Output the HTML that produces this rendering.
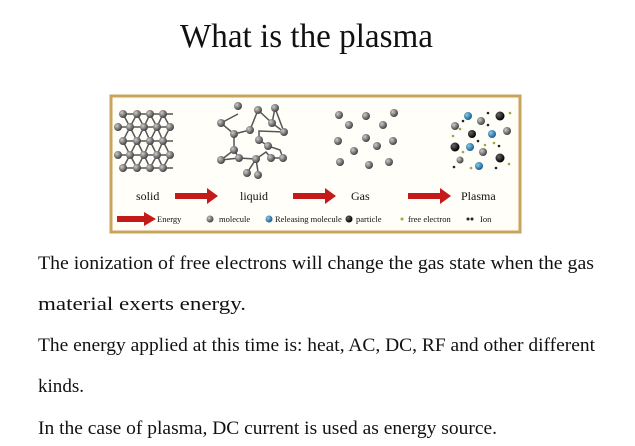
<!DOCTYPE html>
<html><head><meta charset="utf-8"><style>
body{margin:0;background:#fff}
svg{display:block}
text{font-family:"Liberation Serif",serif;fill:#111}
</style></head><body>
<svg width="635" height="446" viewBox="0 0 635 446" xmlns="http://www.w3.org/2000/svg">
<defs>
<radialGradient id="g" cx="35%" cy="35%" r="65%"><stop offset="0" stop-color="#ccc"/><stop offset="1" stop-color="#444"/></radialGradient>
<radialGradient id="b" cx="35%" cy="35%" r="65%"><stop offset="0" stop-color="#8cd"/><stop offset="1" stop-color="#1a5f9a"/></radialGradient>
<radialGradient id="k" cx="35%" cy="35%" r="65%"><stop offset="0" stop-color="#666"/><stop offset="1" stop-color="#000"/></radialGradient>
</defs>
<text x="180" y="47" font-size="34" textLength="253" lengthAdjust="spacingAndGlyphs">What is the plasma</text>
<rect x="111" y="96" width="409" height="136" fill="#fffef8" stroke="#c9a45a" stroke-width="3"/>
<!-- solid lattice -->
<g stroke="#555" stroke-width="1.5" fill="none">
<path d="M119 114H173M119 127H173M119 141H173M119 155H173M119 168H173"/>
<path d="M123 114L130 127L137 114L144 127L150 114L157 127L163 114L170 127M123 141L130 127L137 141L144 127L150 141L157 127L163 141L170 127M123 141L130 155L137 141L144 155L150 141L157 155L163 141L170 155M123 168L130 155L137 168L144 155L150 168L157 155L163 168L170 155"/>
</g>
<g fill="url(#g)">
<circle cx="123" cy="114" r="4"/><circle cx="137" cy="114" r="4"/><circle cx="150" cy="114" r="4"/><circle cx="163" cy="114" r="4"/>
<circle cx="118" cy="127" r="4"/><circle cx="130" cy="127" r="4"/><circle cx="144" cy="127" r="4"/><circle cx="157" cy="127" r="4"/><circle cx="170" cy="127" r="4"/>
<circle cx="123" cy="141" r="4"/><circle cx="137" cy="141" r="4"/><circle cx="150" cy="141" r="4"/><circle cx="163" cy="141" r="4"/>
<circle cx="118" cy="155" r="4"/><circle cx="130" cy="155" r="4"/><circle cx="144" cy="155" r="4"/><circle cx="157" cy="155" r="4"/><circle cx="170" cy="155" r="4"/>
<circle cx="123" cy="168" r="4"/><circle cx="137" cy="168" r="4"/><circle cx="150" cy="168" r="4"/><circle cx="163" cy="168" r="4"/>
</g>
<!-- liquid -->
<g stroke="#555" stroke-width="1.5" fill="none">
<path d="M238 114L221 123L234 134L250 130L258 110L272 123L275 108L284 132L259 131L259 140L268 146L280 150L283 158L271 158L266 152L256 159L239 158L221 160M234 134L234 150L239 158L256 159L247 173M256 159L258 172M234 150L221 160M284 132L272 123"/>
</g>
<g fill="url(#g)">
<circle cx="238" cy="106" r="4"/><circle cx="221" cy="123" r="4"/><circle cx="234" cy="134" r="4"/><circle cx="250" cy="130" r="4"/><circle cx="258" cy="110" r="4"/><circle cx="272" cy="123" r="4"/><circle cx="275" cy="108" r="4"/><circle cx="284" cy="132" r="4"/><circle cx="259" cy="140" r="4"/><circle cx="268" cy="146" r="4"/><circle cx="283" cy="158" r="4"/><circle cx="271" cy="158" r="4"/><circle cx="256" cy="159" r="4"/><circle cx="239" cy="158" r="4"/><circle cx="221" cy="160" r="4"/><circle cx="234" cy="150" r="4"/><circle cx="247" cy="173" r="4"/><circle cx="258" cy="175" r="4"/>
</g>
<!-- gas -->
<g fill="url(#g)">
<circle cx="339" cy="115" r="4"/><circle cx="366" cy="116" r="4"/><circle cx="394" cy="113" r="4"/><circle cx="349" cy="125" r="4"/><circle cx="383" cy="125" r="4"/><circle cx="366" cy="138" r="4"/><circle cx="338" cy="141" r="4"/><circle cx="393" cy="141" r="4"/><circle cx="377" cy="146" r="4"/><circle cx="354" cy="151" r="4"/><circle cx="340" cy="162" r="4"/><circle cx="369" cy="165" r="4"/><circle cx="389" cy="162" r="4"/>
</g>
<!-- plasma -->
<g>
<circle cx="468" cy="116" r="4" fill="url(#b)"/><circle cx="500" cy="116" r="4.5" fill="url(#k)"/><circle cx="455" cy="126" r="4" fill="url(#g)"/><circle cx="481" cy="121" r="4" fill="url(#g)"/><circle cx="472" cy="134" r="4" fill="url(#k)"/><circle cx="492" cy="134" r="4" fill="url(#b)"/><circle cx="507" cy="131" r="4" fill="url(#g)"/><circle cx="455" cy="147" r="4.5" fill="url(#k)"/><circle cx="470" cy="147" r="4" fill="url(#b)"/><circle cx="483" cy="152" r="4" fill="url(#g)"/><circle cx="500" cy="158" r="4.5" fill="url(#k)"/><circle cx="460" cy="160" r="3.5" fill="url(#g)"/><circle cx="479" cy="166" r="4" fill="url(#b)"/>
<g fill="#222"><circle cx="463" cy="121" r="1.3"/><circle cx="488" cy="125" r="1.3"/><circle cx="478" cy="141" r="1.3"/><circle cx="499" cy="146" r="1.3"/><circle cx="454" cy="167" r="1.3"/><circle cx="496" cy="168" r="1.3"/><circle cx="488" cy="113" r="1.3"/></g>
<g fill="#9a4"><circle cx="510" cy="113" r="1.3"/><circle cx="453" cy="136" r="1.3"/><circle cx="463" cy="152" r="1.3"/><circle cx="494" cy="143" r="1.3"/><circle cx="509" cy="164" r="1.3"/><circle cx="471" cy="168" r="1.3"/><circle cx="485" cy="145" r="1.3"/><circle cx="460" cy="129" r="1.3"/></g>
</g>
<!-- labels -->
<g font-size="12">
<text x="136" y="200">solid</text><text x="240" y="200">liquid</text><text x="351" y="200">Gas</text><text x="461" y="200">Plasma</text>
</g>
<g fill="#c41a1a">
<path d="M175 193H207V188L218 196L207 204V199H175Z"/>
<path d="M293 193H325V188L336 196L325 204V199H293Z"/>
<path d="M408 193H440V188L451 196L440 204V199H408Z"/>
<path d="M117 216H144V212L156 219L144 226V222H117Z"/>
</g>
<g font-size="8.5">
<text x="157" y="222">Energy</text>
<circle cx="210" cy="219" r="3.5" fill="url(#g)"/><text x="219" y="222">molecule</text>
<circle cx="269" cy="219" r="3.5" fill="url(#b)"/><text x="275" y="222">Releasing molecule</text>
<circle cx="349" cy="219" r="3.5" fill="url(#k)"/><text x="356" y="222">particle</text>
<circle cx="402" cy="219" r="1.5" fill="#9a4"/><text x="408" y="222">free electron</text>
<circle cx="468" cy="219" r="1.5" fill="#222"/><circle cx="472" cy="219" r="1.5" fill="#222"/><text x="480" y="222">Ion</text>
</g>
<g font-size="18.5">
<text x="38" y="269" textLength="556" lengthAdjust="spacingAndGlyphs">The ionization of free electrons will change the gas state when the gas</text>
<text x="38" y="310" textLength="208" lengthAdjust="spacingAndGlyphs">material exerts energy.</text>
<text x="38" y="351" textLength="557" lengthAdjust="spacingAndGlyphs">The energy applied at this time is: heat, AC, DC, RF and other different</text>
<text x="38" y="392" textLength="46" lengthAdjust="spacingAndGlyphs">kinds.</text>
<text x="38" y="434" textLength="459" lengthAdjust="spacingAndGlyphs">In the case of plasma, DC current is used as energy source.</text>
</g>
</svg>
</body></html>
